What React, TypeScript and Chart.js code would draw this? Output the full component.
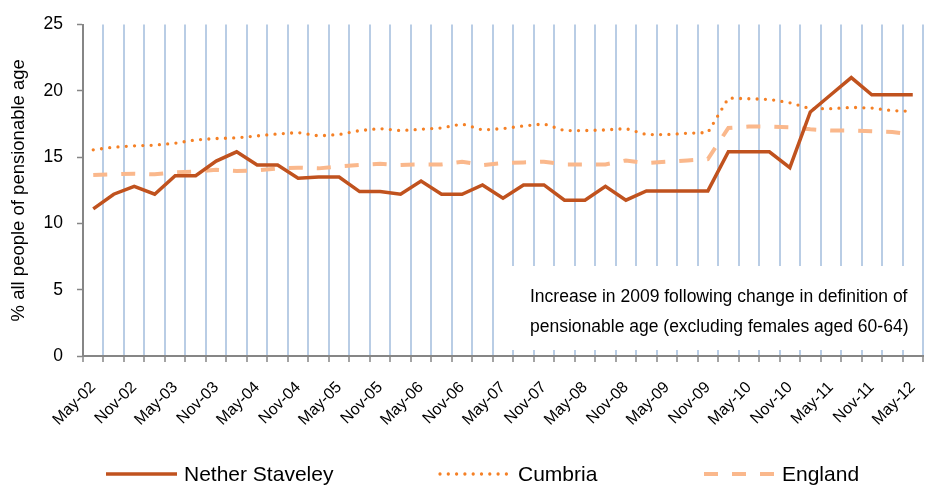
import React, { useEffect, useRef } from "react";
import { Chart, registerables } from "chart.js";

Chart.register(...registerables);

// quarterly categories, May-02 .. May-12 (only May / Nov are labelled)
const quarters = [
  "May-02", "Aug-02", "Nov-02", "Feb-03", "May-03", "Aug-03", "Nov-03", "Feb-04",
  "May-04", "Aug-04", "Nov-04", "Feb-05", "May-05", "Aug-05", "Nov-05", "Feb-06",
  "May-06", "Aug-06", "Nov-06", "Feb-07", "May-07", "Aug-07", "Nov-07", "Feb-08",
  "May-08", "Aug-08", "Nov-08", "Feb-09", "May-09", "Aug-09", "Nov-09", "Feb-10",
  "May-10", "Aug-10", "Nov-10", "Feb-11", "May-11", "Aug-11", "Nov-11", "Feb-12",
  "May-12",
];

const netherStaveley = [
  11.1, 12.2, 12.8, 12.2, 13.6, 13.6, 14.7, 15.4, 14.4, 14.4,
  13.4, 13.5, 13.5, 12.4, 12.4, 12.2, 13.2, 12.2, 12.2, 12.9,
  11.9, 12.9, 12.9, 11.75, 11.75, 12.8, 11.75, 12.45, 12.45, 12.45,
  12.45, 15.4, 15.4, 15.4, 14.2, 18.4, 19.7, 21.0, 19.7, 19.7, 19.7,
];

const cumbria = [
  15.55, 15.75, 15.85, 15.9, 16.05, 16.3, 16.4, 16.45, 16.6, 16.75,
  16.85, 16.6, 16.7, 17.0, 17.15, 17.0, 17.1, 17.2, 17.5, 17.05,
  17.15, 17.35, 17.5, 17.0, 17.0, 17.05, 17.15, 16.7, 16.7, 16.8,
  16.85, 19.45, 19.4, 19.35, 19.1, 18.65, 18.65, 18.75, 18.7, 18.5, 18.45,
];

const england = [
  13.65, 13.7, 13.75, 13.7, 13.85, 13.9, 14.05, 13.95, 14.0, 14.15,
  14.2, 14.15, 14.3, 14.4, 14.5, 14.4, 14.45, 14.45, 14.65, 14.4,
  14.55, 14.6, 14.65, 14.45, 14.45, 14.45, 14.75, 14.55, 14.65, 14.75,
  14.85, 17.2, 17.3, 17.3, 17.25, 17.1, 17.0, 17.0, 16.95, 16.9, 16.7,
];

const noteLines = [
  "Increase in 2009 following change in definition of",
  "pensionable age (excluding females aged 60-64)",
];

const FONT = "'Liberation Sans', Arial, sans-serif";
const axisGrey = "#868686";
const gridBlue = "#B9CDE5";

// white note box sitting over the lower right of the plot
const noteBox = {
  id: "noteBox",
  beforeDatasetsDraw(chart: any) {
    const { ctx, chartArea } = chart;
    ctx.save();
    ctx.fillStyle = "#fff";
    ctx.fillRect(496, 266, chartArea.right - 496 - 1, chartArea.bottom - 6 - 266);
    ctx.fillStyle = "#000";
    ctx.font = `17.5px ${FONT}`;
    ctx.textAlign = "left";
    ctx.textBaseline = "alphabetic";
    ctx.fillText(noteLines[0], 530, 302);
    ctx.fillText(noteLines[1], 530, 332);
    ctx.restore();
  },
};

// legend along the bottom, Excel style line samples
const lineLegend = {
  id: "lineLegend",
  afterDraw(chart: any) {
    const { ctx } = chart;
    const spots = [
      { x0: 106, x1: 177, tx: 184 },
      { x0: 440, x1: 508, tx: 518 },
      { x0: 704, x1: 775, tx: 782 },
    ];
    const y = 474;
    ctx.save();
    chart.data.datasets.forEach((ds: any, i: number) => {
      const s = spots[i];
      ctx.beginPath();
      ctx.strokeStyle = ds.borderColor;
      ctx.lineWidth = ds.borderWidth;
      ctx.lineCap = ds.borderCapStyle || "butt";
      ctx.setLineDash(ds.borderDash || []);
      ctx.moveTo(s.x0, y);
      ctx.lineTo(s.x1, y);
      ctx.stroke();
      ctx.setLineDash([]);
      ctx.fillStyle = "#000";
      ctx.font = `21px ${FONT}`;
      ctx.textAlign = "left";
      ctx.textBaseline = "middle";
      ctx.fillText(ds.label, s.tx, y + 1);
    });
    ctx.restore();
  },
};

const PensionableChart: React.FC = () => {
  const chartRef = useRef<HTMLCanvasElement | null>(null);
  const chartInstance = useRef<Chart<"line"> | null>(null);

  useEffect(() => {
    document.body.style.margin = "0";
    if (!chartRef.current) return;
    if (chartInstance.current) {
      chartInstance.current.destroy();
    }
    const ctx = chartRef.current.getContext("2d");
    if (!ctx) return;

    chartInstance.current = new Chart(ctx, {
      type: "line",
      data: {
        labels: quarters,
        datasets: [
          {
            label: "Nether Staveley",
            data: netherStaveley,
            borderColor: "#C0521E",
            borderWidth: 3.5,
            borderCapStyle: "butt",
            pointRadius: 0,
          },
          {
            label: "Cumbria",
            data: cumbria,
            borderColor: "#F58025",
            borderWidth: 3.3,
            borderDash: [0, 8.3],
            borderCapStyle: "round",
            pointRadius: 0,
          },
          {
            label: "England",
            data: england,
            borderColor: "#FAB88C",
            borderWidth: 4,
            borderDash: [14, 14],
            borderCapStyle: "butt",
            pointRadius: 0,
          },
        ],
      },
      options: {
        responsive: false,
        animation: false,
        layout: { padding: { left: 0, right: 2, top: 17, bottom: 0 } },
        plugins: {
          legend: { display: false },
          tooltip: { enabled: false },
        },
        scales: {
          x: {
            type: "category",
            offset: true,
            grid: {
              offset: true,
              color: gridBlue,
              lineWidth: 2,
              tickColor: axisGrey,
              tickWidth: 1.5,
              tickLength: 6,
            },
            border: { color: axisGrey, width: 2 },
            ticks: {
              autoSkip: false,
              minRotation: 45,
              maxRotation: 45,
              color: "#000",
              padding: 16,
              font: { family: FONT, size: 16 },
              callback: (_v: any, i: number) => (i % 2 === 0 ? quarters[i] : ""),
            },
            afterFit: (s: any) => {
              s.height = 132;
              s.paddingLeft = 0;
              s.paddingRight = 0;
            },
          },
          y: {
            min: 0,
            max: 25,
            ticks: {
              stepSize: 5,
              color: "#000",
              padding: 14,
              font: { family: FONT, size: 17.5 },
            },
            grid: {
              drawOnChartArea: false,
              tickColor: axisGrey,
              tickWidth: 1.5,
              tickLength: 6,
            },
            border: { color: axisGrey, width: 2 },
            title: {
              display: true,
              text: "% all people of pensionable age",
              color: "#000",
              font: { family: FONT, size: 18.5 },
              padding: { top: 8, bottom: 0 },
            },
            afterFit: (s: any) => {
              s.width = 83;
            },
          },
        },
      },
      plugins: [noteBox, lineLegend],
    });

    return () => {
      if (chartInstance.current) {
        chartInstance.current.destroy();
        chartInstance.current = null;
      }
    };
  }, []);

  return (
    <div style={{ width: 925, height: 488 }}>
      <canvas ref={chartRef} width={925} height={488} />
    </div>
  );
};

export default function App() {
  return <PensionableChart />;
}
